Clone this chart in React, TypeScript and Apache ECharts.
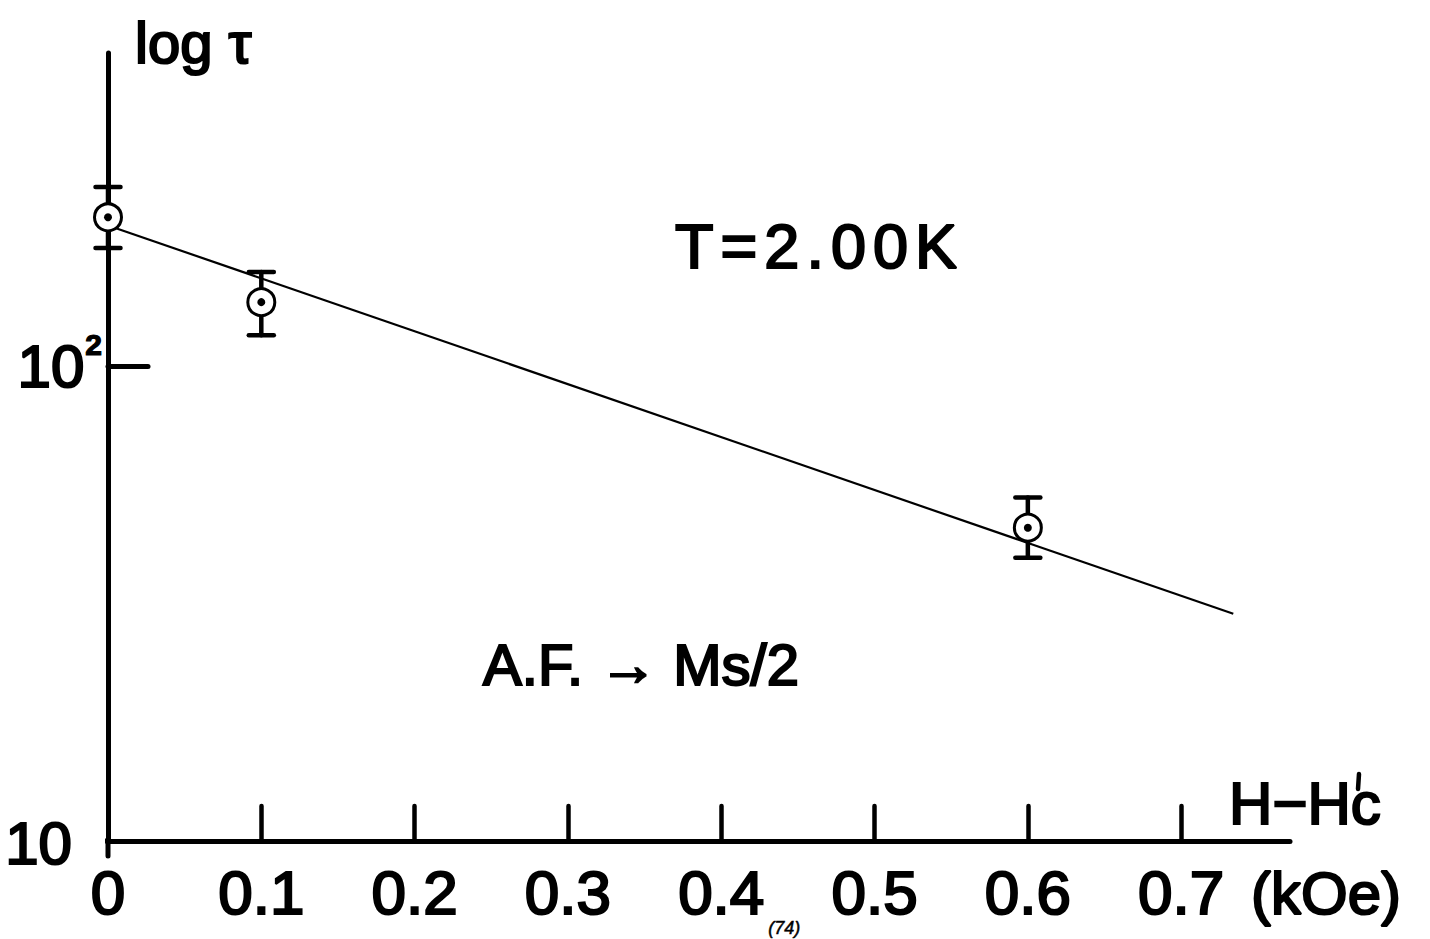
import React, { useEffect, useRef } from "react";
import * as echarts from "echarts";

// ---- data ----
const xTicks = [0, 0.1, 0.2, 0.3, 0.4, 0.5, 0.6, 0.7];
const xTickLabels = ["0", "0.1", "0.2", "0.3", "0.4", "0.5", "0.6", "0.7"];
const yLabelTicks = [10, 100];
const yTickMarks = [100];
const xMin = 0;
const xMax = 0.771;
const yMin = 10;
const yMax = 457;

// measured points (H - H'c in kOe, tau)
const pointsH = [0, 0.1, 0.6];
const tauMean = [206, 136.5, 45.7];
const tauHigh = [238.6, 157.9, 52.9];
const tauLow = [177.4, 116.3, 39.5];

// fitted straight line on the log scale
const fitH = [0, 0.734];
const fitTau = [198, 30.1];

// little axis stubs past the crossing point
const stubXAxisH = [-0.008, 0];
const stubXAxisTau = [10, 10];
const stubYAxisH = [0, 0];
const stubYAxisTau = [9.3, 10];

const tempLabelChars = ["T", "=", "2", ".", "0", "0", "K"];

const FONT = '"Liberation Sans", Arial, sans-serif';
const INK = "#000";

export default function App() {
  const ref = useRef<HTMLDivElement>(null);

  useEffect(() => {
    if (!ref.current) return;
    const chart = echarts.init(ref.current, null, { renderer: "svg" });

    const txt = (text: string, size: number, extra: any = {}) => ({
      text,
      fontFamily: FONT,
      fontSize: size,
      fill: INK,
      stroke: INK,
      lineWidth: 2.2,
      ...extra,
    });

    const option: any = {
      animation: false,
      backgroundColor: "#fff",
      grid: { left: 108, right: 140, top: 53, bottom: 98, containLabel: false },
      xAxis: {
        type: "value",
        min: xMin,
        max: xMax,
        interval: 0.1,
        splitLine: { show: false },
        axisLine: { show: true, lineStyle: { color: INK, width: 5, cap: "round" } },
        axisTick: {
          show: true,
          inside: true,
          length: 35,
          customValues: xTicks,
          lineStyle: { color: INK, width: 4.5, cap: "round" },
        },
        axisLabel: {
          show: true,
          customValues: xTicks,
          margin: 20,
          fontFamily: FONT,
          fontSize: 62,
          color: INK,
          textBorderColor: INK,
          textBorderWidth: 2.2,
          formatter: (v: number) => {
            const i = xTicks.findIndex((t) => Math.abs(t - v) < 1e-6);
            return i >= 0 ? xTickLabels[i] : "";
          },
        },
      },
      yAxis: {
        type: "log",
        logBase: 10,
        min: yMin,
        max: yMax,
        splitLine: { show: false },
        axisLine: { show: true, lineStyle: { color: INK, width: 5, cap: "round" } },
        axisTick: {
          show: true,
          inside: true,
          length: 40,
          customValues: yTickMarks,
          lineStyle: { color: INK, width: 5, cap: "round" },
        },
        axisLabel: {
          show: true,
          customValues: yLabelTicks,
          margin: 6,
          color: INK,
          formatter: (v: number) => {
            if (Math.abs(v - 10) < 1e-6) return "{a|10}";
            if (Math.abs(v - 100) < 1e-6) return "{b|10}{s|2}";
            return "";
          },
          rich: {
            a: {
              fontFamily: FONT,
              fontSize: 60,
              color: INK,
              textBorderColor: INK,
              textBorderWidth: 2.2,
              padding: [4, 30, 0, 0],
            },
            b: {
              fontFamily: FONT,
              fontSize: 60,
              color: INK,
              textBorderColor: INK,
              textBorderWidth: 2.2,
            },
            s: {
              fontFamily: FONT,
              fontSize: 30,
              fontWeight: "bold",
              color: INK,
              textBorderColor: INK,
              textBorderWidth: 1.2,
              padding: [0, 0, 44, 1],
            },
          },
        },
      },
      graphic: [
        {
          type: "text",
          left: 134,
          top: 12,
          style: txt("log τ", 58),
        },
        {
          type: "text",
          left: 674,
          top: 213,
          style: {
            ...txt(tempLabelChars.map((c) => `{c|${c}}`).join(""), 63),
            rich: {
              c: {
                fontFamily: FONT,
                fontSize: 63,
                fill: INK,
                stroke: INK,
                lineWidth: 2.2,
                padding: [0, 3.5, 0, 3.5],
              },
            },
          },
        },
        {
          type: "text",
          left: 482,
          top: 634,
          style: txt("A.F. → Ms/2", 58),
        },
        {
          type: "text",
          left: 1228,
          top: 772,
          style: txt("H−Hc", 60),
        },
        {
          type: "line",
          shape: { x1: 1359, y1: 774, x2: 1358, y2: 789 },
          style: { stroke: INK, lineWidth: 4.5, lineCap: "round" },
        },
        {
          type: "text",
          left: 1250,
          top: 862,
          style: txt("(kOe)", 60),
        },
        {
          type: "text",
          left: 768,
          top: 919,
          style: txt("(74)", 18, { fontStyle: "italic", lineWidth: 0.5 }),
        },
      ],
      series: [
        {
          name: "xAxisStub",
          type: "line",
          data: stubXAxisH.map((h, i) => [h, stubXAxisTau[i]]),
          showSymbol: false,
          clip: false,
          silent: true,
          lineStyle: { color: INK, width: 5, cap: "round" },
        },
        {
          name: "yAxisStub",
          type: "line",
          data: stubYAxisH.map((h, i) => [h, stubYAxisTau[i]]),
          showSymbol: false,
          clip: false,
          silent: true,
          lineStyle: { color: INK, width: 5, cap: "round" },
        },
        {
          name: "fit",
          type: "line",
          data: fitH.map((h, i) => [h, fitTau[i]]),
          showSymbol: false,
          lineStyle: { color: INK, width: 2.2 },
          z: 3,
        },
        {
          name: "errorBars",
          type: "custom",
          data: pointsH.map((h, i) => [h, tauLow[i], tauHigh[i]]),
          clip: false,
          z: 4,
          renderItem: (params: any, api: any) => {
            const h = api.value(0);
            const lo = api.coord([h, api.value(1)]);
            const hi = api.coord([h, api.value(2)]);
            const cap = 12.5;
            const st = { stroke: INK, lineWidth: 4.5, lineCap: "round" };
            return {
              type: "group",
              children: [
                { type: "line", shape: { x1: lo[0], y1: lo[1], x2: hi[0], y2: hi[1] }, style: st },
                { type: "line", shape: { x1: hi[0] - cap, y1: hi[1], x2: hi[0] + cap, y2: hi[1] }, style: st },
                { type: "line", shape: { x1: lo[0] - cap, y1: lo[1], x2: lo[0] + cap, y2: lo[1] }, style: st },
              ],
            };
          },
        },
        {
          name: "points",
          type: "scatter",
          data: pointsH.map((h, i) => [h, tauMean[i]]),
          symbol: "circle",
          symbolSize: 27,
          z: 5,
          itemStyle: { color: "#fff", borderColor: INK, borderWidth: 3, opacity: 1 },
        },
        {
          name: "pointCentres",
          type: "scatter",
          data: pointsH.map((h, i) => [h, tauMean[i]]),
          symbol: "circle",
          symbolSize: 8,
          z: 6,
          itemStyle: { color: INK, opacity: 1 },
        },
      ],
    };

    chart.setOption(option);
    return () => chart.dispose();
  }, []);

  return (
    <div
      ref={ref}
      style={{ position: "fixed", left: 0, top: 0, width: 1430, height: 939, background: "#fff" }}
    />
  );
}
